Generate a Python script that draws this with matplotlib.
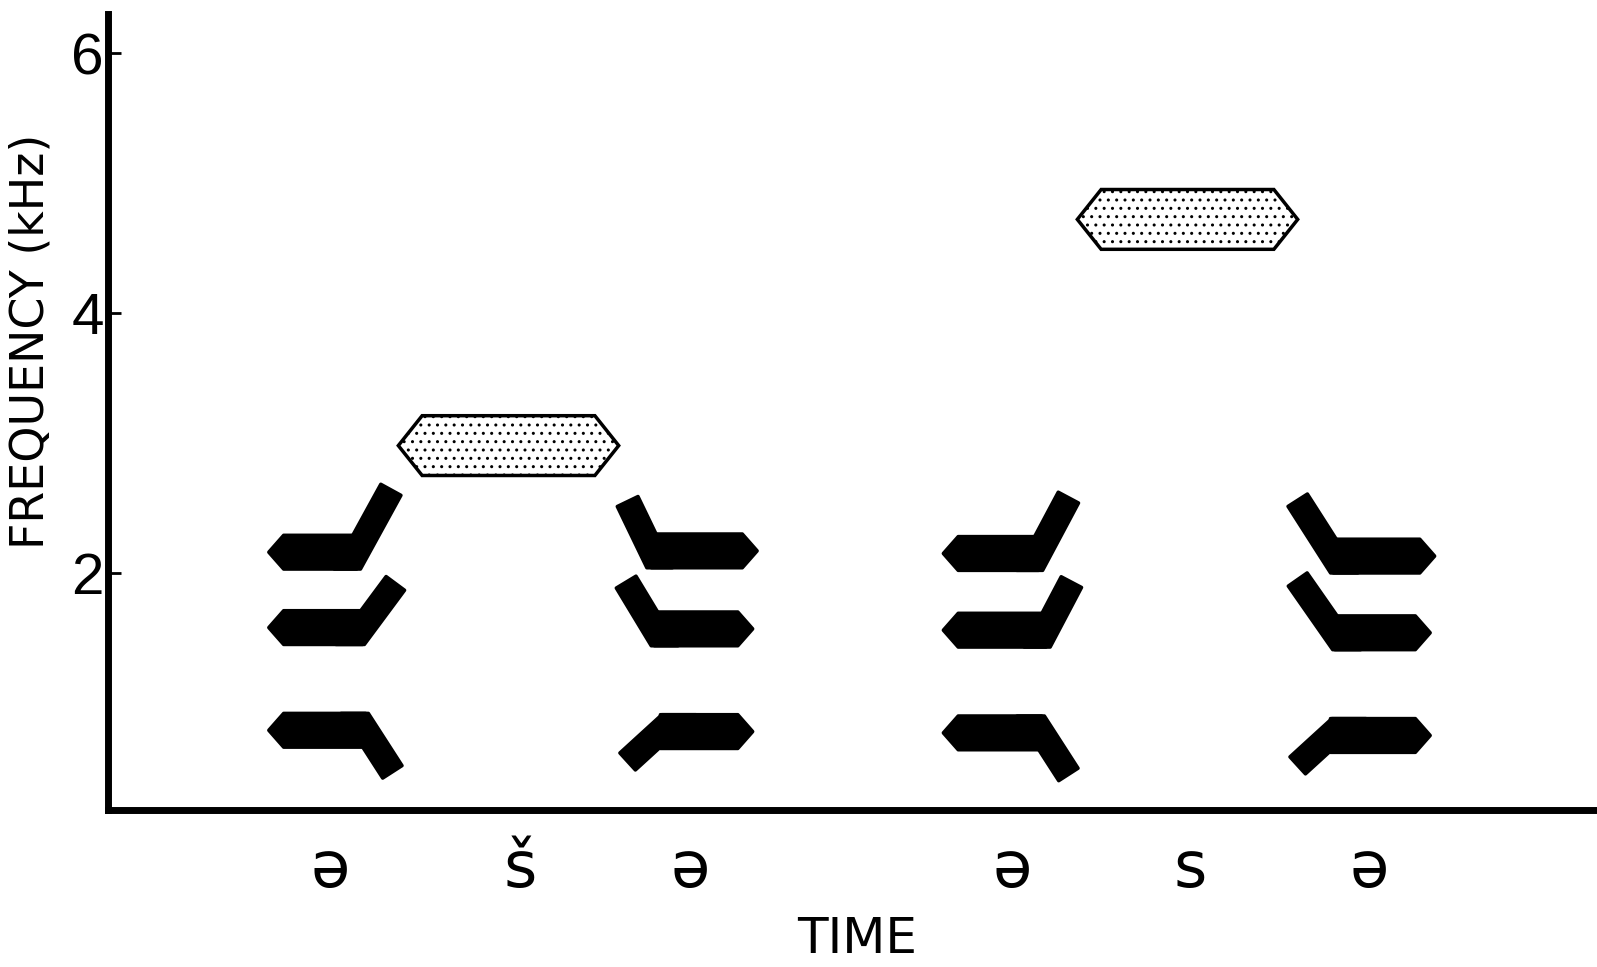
import numpy as np
import matplotlib
matplotlib.use('Agg')
import matplotlib.pyplot as plt
from matplotlib.patches import Polygon

plt.rcParams['font.family'] = ['DejaVu Sans']

# ---- data: time in ms, frequency in kHz ----
# formant bars: pointed end, steady/transition joint, steady freq, transition end
tip_t = [108, 108, 108, 436, 433, 433, 561, 561, 561, 891, 888, 888]
joint_t = [167, 171, 173, 365, 367, 371, 625, 630, 627, 823, 824, 821]
steady_f = [2.16, 1.58, 0.79, 2.17, 1.57, 0.78, 2.15, 1.56, 0.77, 2.13, 1.54, 0.75]
trans_t = [190, 193, 191, 349, 348, 349, 645, 647, 645, 799, 799, 799]
trans_f = [2.64, 1.92, 0.47, 2.55, 1.93, 0.55, 2.58, 1.93, 0.45, 2.56, 1.95, 0.52]

# frication noise bands
noise_start = [195, 651]
noise_end = [343, 799]
noise_f = [2.98, 4.72]

# segment labels under the time axis
seg_t = [149, 277, 391, 607, 727, 847]
seg_labels = ['ə', 'š', 'ə', 'ə', 's', 'ə']

freq_ticks = [2, 4, 6]

# drawing sizes
BAR_H = 0.13      # half height of steady bar (kHz)
TIP = 10          # length of pointed end (ms)
TRANS_W = 23      # transition thickness (px)
NOISE_H = 0.23
NOISE_TIP = 16

fig = plt.figure(figsize=(15.97, 9.67), dpi=100)
ax = fig.add_axes([0.0676, 0.1624, 0.9324, 0.8231])
ax.set_xlim(0, 1000)
ax.set_ylim(0.177, 6.3)

to_px = ax.transData.transform
to_data = ax.transData.inverted().transform

for t0, t1, f, te, fe in zip(tip_t, joint_t, steady_f, trans_t, trans_f):
    s = 1 if t1 > t0 else -1
    bar = [(t0, f), (t0 + s * TIP, f + BAR_H), (t1, f + BAR_H),
           (t1, f - BAR_H), (t0 + s * TIP, f - BAR_H)]
    ax.add_patch(Polygon(bar, closed=True, fc='black', ec='black',
                         lw=2.5, joinstyle='round'))
    # transition band built in pixel space so the end is squared off
    j = to_px((t1, f))
    e = to_px((te, fe))
    L = np.hypot(*(e - j))
    d = (e - j) / L
    n = np.array([-d[1], d[0]])
    y_cut = to_px((t1, f - np.sign(fe - f) * BAR_H))[1]
    pts = []
    for k in (1, -1):
        p0 = j + k * n * TRANS_W / 2
        tc = (y_cut - p0[1]) / d[1]
        pts.append(p0 + d * tc)
        pts.append(p0 + d * L)
    band = to_data(np.array([pts[0], pts[1], pts[3], pts[2]]))
    ax.add_patch(Polygon(band, closed=True, fc='black', ec='black',
                         lw=2.5, joinstyle='round'))

for t0, t1, f in zip(noise_start, noise_end, noise_f):
    hexa = [(t0, f), (t0 + NOISE_TIP, f + NOISE_H), (t1 - NOISE_TIP, f + NOISE_H),
            (t1, f), (t1 - NOISE_TIP, f - NOISE_H), (t0 + NOISE_TIP, f - NOISE_H)]
    ax.add_patch(Polygon(hexa, closed=True, fc='white', ec='black',
                         lw=2.5, hatch='..'))

for side in ['top', 'right']:
    ax.spines[side].set_visible(False)
for side in ['left', 'bottom']:
    ax.spines[side].set_linewidth(5)
    ax.spines[side].set_color('black')

ax.set_yticks(freq_ticks)
ax.tick_params(axis='y', direction='in', length=9, width=2, pad=3, labelsize=42)
for lab in ax.get_yticklabels():
    lab.set_family(['Liberation Sans', 'DejaVu Sans'])
ax.set_xticks(seg_t, seg_labels)
ax.tick_params(axis='x', length=0, pad=20, labelsize=46)

ax.set_ylabel('FREQUENCY (kHz)', fontsize=33, va='center')
ax.yaxis.set_label_coords(-0.0517, 0.589)
ax.set_xlabel('TIME', fontsize=36, va='baseline')
ax.xaxis.set_label_coords(0.503, -0.180)

fig.savefig('out.png', dpi=100)
